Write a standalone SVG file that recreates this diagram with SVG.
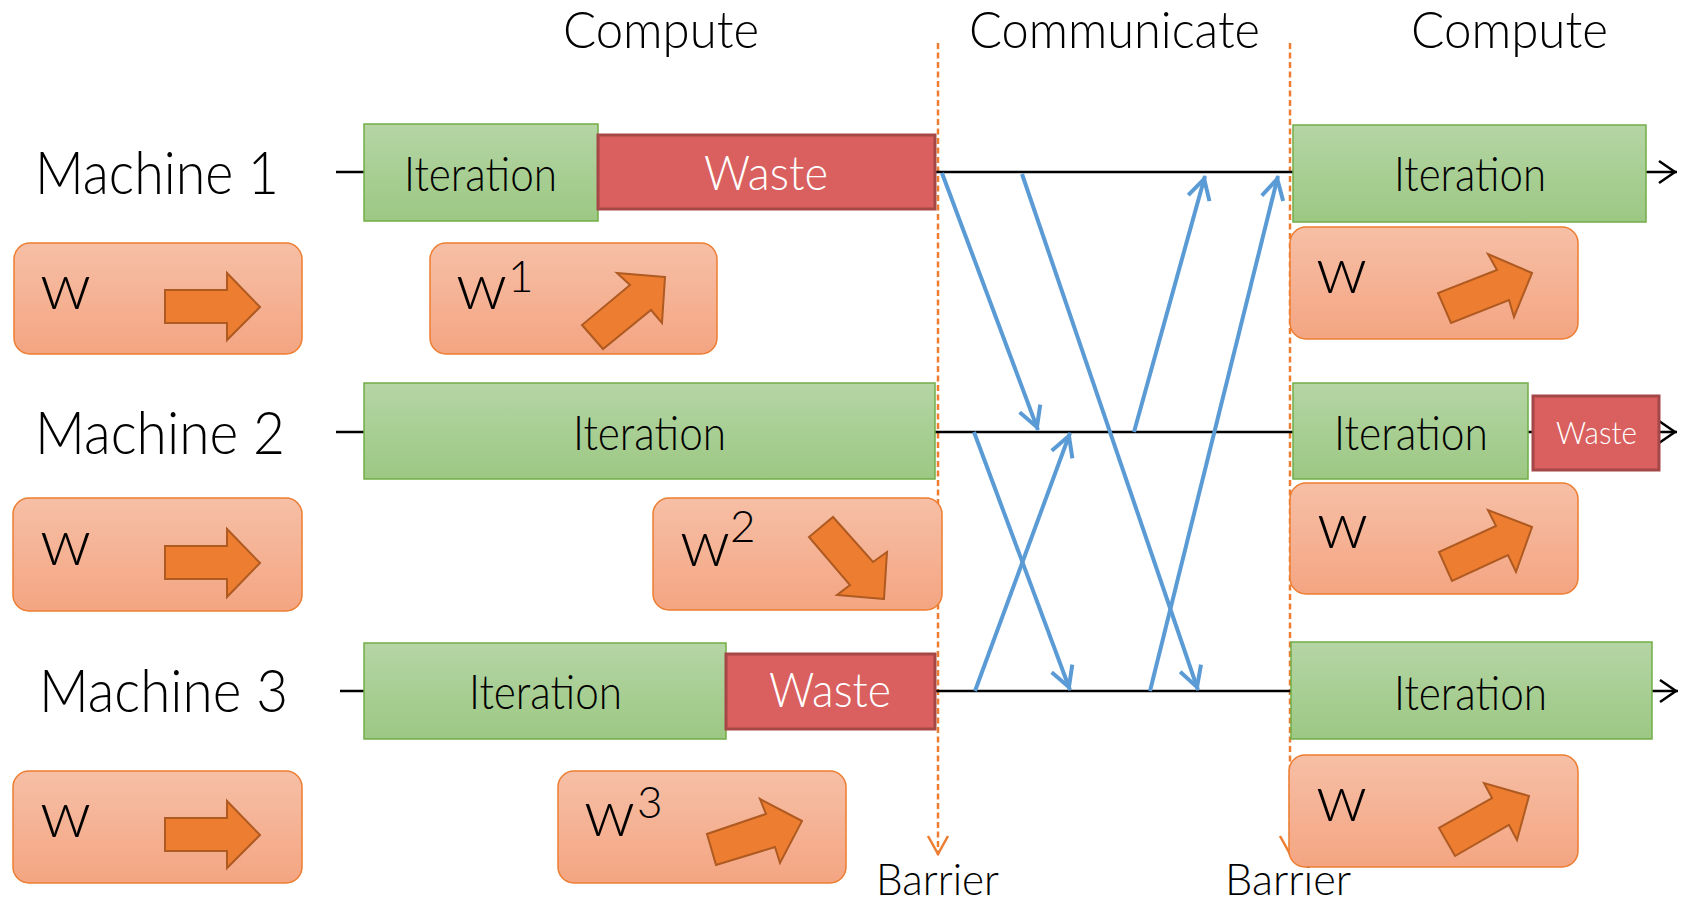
<svg xmlns="http://www.w3.org/2000/svg" width="1681" height="901" viewBox="0 0 1681 901">
  <defs>
    <linearGradient id="g-iter" x1="0" y1="0" x2="0" y2="1">
      <stop offset="0" stop-color="#B5D5A5"/>
      <stop offset="1" stop-color="#9CC883"/>
    </linearGradient>
    <linearGradient id="g-w" x1="0" y1="0" x2="0" y2="1">
      <stop offset="0" stop-color="#F6BFA6"/>
      <stop offset="1" stop-color="#F4A582"/>
    </linearGradient>
    <marker id="m-blue" markerUnits="userSpaceOnUse" viewBox="-24 -14 28 28" markerWidth="28" markerHeight="28" refX="3" refY="0" orient="auto" overflow="visible">
      <path d="M-20,-11 L0,0 L-20,11" fill="none" stroke="#5B9BD5" stroke-width="4"/>
    </marker>
    <marker id="m-black" markerUnits="userSpaceOnUse" viewBox="-20 -14 24 28" markerWidth="24" markerHeight="28" refX="2" refY="0" orient="auto" overflow="visible">
      <path d="M-16,-11 L0,0 L-16,11" fill="none" stroke="#000" stroke-width="2.5"/>
    </marker>
    <marker id="m-orange" markerUnits="userSpaceOnUse" viewBox="-22 -14 26 28" markerWidth="26" markerHeight="28" refX="1" refY="0" orient="auto" overflow="visible">
      <path d="M-18,-10 L0,0 L-18,10" fill="none" stroke="#ED7D31" stroke-width="2.5" stroke-dasharray="none"/>
    </marker>
  </defs>
  <style>
    text { font-family: Lato, "Open Sans", "DejaVu Sans", sans-serif; font-weight: 300; fill: #000; }
    .hdr { font-size: 52px; }
    .mach { font-size: 60px; }
    .lbl { font-size: 47px; }
    .wlbl { font-size: 47px; fill: #fff; }
    .wsm { font-size: 31px; fill: #fff; }
    .bar { font-size: 43px; }
    .w { font-size: 66px; }
    .sup { font-size: 44px; }
    .iter { fill: url(#g-iter); stroke: #71AD47; stroke-width: 1.5; }
    .waste { fill: #D9605F; stroke: #A54746; stroke-width: 3; }
    .wbox { fill: url(#g-w); stroke: #ED7D31; stroke-width: 1.5; }
    .blk { fill: #ED7D31; stroke: #AE5A21; stroke-width: 2; stroke-linejoin: miter; }
    .tl { stroke: #000; stroke-width: 2.5; fill: none; }
    .msg { stroke: #5B9BD5; stroke-width: 4; fill: none; }
    .barrier { stroke: #ED7D31; stroke-width: 2.5; stroke-dasharray: 6 3.5; fill: none; }
  </style>

  <rect width="1681" height="901" fill="#fff"/>

  <!-- phase headings -->
  <g id="headers">
    <text class="hdr" x="563" y="48" textLength="196" lengthAdjust="spacingAndGlyphs">Compute</text>
    <text class="hdr" x="969" y="48" textLength="291" lengthAdjust="spacingAndGlyphs">Communicate</text>
    <text class="hdr" x="1411" y="48" textLength="197" lengthAdjust="spacingAndGlyphs">Compute</text>
  </g>

  <!-- barrier markers -->
  <g id="barriers">
    <line class="barrier" x1="938" y1="43" x2="938" y2="855" marker-end="url(#m-orange)"/>
    <line class="barrier" x1="1290" y1="43" x2="1290" y2="855" marker-end="url(#m-orange)"/>
    <text class="bar" x="876" y="895" textLength="123" lengthAdjust="spacingAndGlyphs">Barrier</text>
    <text class="bar" x="1225" y="895" textLength="126" lengthAdjust="spacingAndGlyphs">Barrier</text>
  </g>

  <!-- connectors: machine timelines and messages -->
  <g id="connectors">
    <line class="tl" x1="336" y1="172" x2="1677" y2="172" marker-end="url(#m-black)"/>
    <line class="tl" x1="336" y1="432" x2="1677" y2="432" marker-end="url(#m-black)"/>
    <line class="tl" x1="340" y1="691" x2="1678" y2="691" marker-end="url(#m-black)"/>

    <line class="msg" x1="942" y1="173" x2="1038" y2="430" marker-end="url(#m-blue)"/>
    <line class="msg" x1="1022" y1="174" x2="1198" y2="690" marker-end="url(#m-blue)"/>
    <line class="msg" x1="1134" y1="432" x2="1205" y2="176" marker-end="url(#m-blue)"/>
    <line class="msg" x1="1150" y1="691" x2="1278" y2="176" marker-end="url(#m-blue)"/>
    <line class="msg" x1="974" y1="432" x2="1070" y2="690" marker-end="url(#m-blue)"/>
    <line class="msg" x1="975" y1="691" x2="1070" y2="433" marker-end="url(#m-blue)"/>
  </g>

  <!-- Machine 1 -->
  <g id="machine1">
    <text class="mach" x="35" y="194" textLength="244" lengthAdjust="spacingAndGlyphs">Machine 1</text>
    <rect class="iter" x="364" y="124" width="234" height="97"/>
    <text class="lbl" x="404" y="191" textLength="153" lengthAdjust="spacingAndGlyphs">Iteration</text>
    <rect class="waste" x="598" y="135" width="337" height="74"/>
    <text class="wlbl" x="704" y="190" textLength="124" lengthAdjust="spacingAndGlyphs">Waste</text>
    <rect class="iter" x="1293" y="125" width="353" height="97"/>
    <text class="lbl" x="1394" y="191" textLength="152" lengthAdjust="spacingAndGlyphs">Iteration</text>
  </g>
  <g id="w-m1-start">
    <rect class="wbox" x="14" y="243" width="288" height="111" rx="16"/>
    <text class="w" x="40" y="309" textLength="51" lengthAdjust="spacingAndGlyphs">w</text>
    <polygon class="blk" points="165,290 227,290 227,273 260,307 227,340 227,323 165,323"/>
  </g>
  <g id="w-m1-local">
    <rect class="wbox" x="430" y="243" width="287" height="111" rx="16"/>
    <text class="w" x="456" y="309" textLength="51" lengthAdjust="spacingAndGlyphs">w</text>
    <text class="sup" x="508" y="292">1</text>
    <polygon class="blk" points="665,277 617,273 630,285 582,325 603,349 651,310 662,323"/>
  </g>
  <g id="w-m1-next">
    <rect class="wbox" x="1290" y="227" width="288" height="112" rx="16"/>
    <text class="w" x="1316" y="293" textLength="51" lengthAdjust="spacingAndGlyphs">w</text>
    <polygon class="blk" points="1532,273 1488,254 1497,270 1438,293 1451,323 1509,300 1514,317"/>
  </g>

  <!-- Machine 2 -->
  <g id="machine2">
    <text class="mach" x="35" y="454" textLength="250" lengthAdjust="spacingAndGlyphs">Machine 2</text>
    <rect class="iter" x="364" y="383" width="571" height="96"/>
    <text class="lbl" x="573" y="450" textLength="153" lengthAdjust="spacingAndGlyphs">Iteration</text>
    <rect class="iter" x="1293" y="383" width="235" height="96"/>
    <text class="lbl" x="1334" y="450" textLength="154" lengthAdjust="spacingAndGlyphs">Iteration</text>
    <rect class="waste" x="1533" y="396" width="126" height="74"/>
    <text class="wsm" x="1556" y="444" textLength="81" lengthAdjust="spacingAndGlyphs">Waste</text>
  </g>
  <g id="w-m2-start">
    <rect class="wbox" x="13" y="498" width="289" height="113" rx="16"/>
    <text class="w" x="40" y="565" textLength="51" lengthAdjust="spacingAndGlyphs">w</text>
    <polygon class="blk" points="165,546 227,546 227,529 260,563 227,597 227,579 165,579"/>
  </g>
  <g id="w-m2-local">
    <rect class="wbox" x="653" y="498" width="289" height="112" rx="16"/>
    <text class="w" x="680" y="566" textLength="50" lengthAdjust="spacingAndGlyphs">w</text>
    <text class="sup" x="730" y="542">2</text>
    <polygon class="blk" points="884,599 837,595 850,585 809,537 833,517 873,562 887,552"/>
  </g>
  <g id="w-m2-next">
    <rect class="wbox" x="1290" y="483" width="288" height="111" rx="16"/>
    <text class="w" x="1317" y="548" textLength="51" lengthAdjust="spacingAndGlyphs">w</text>
    <polygon class="blk" points="1532,527 1488,510 1496,526 1439,552 1452,581 1508,555 1516,572"/>
  </g>

  <!-- Machine 3 -->
  <g id="machine3">
    <text class="mach" x="39" y="712" textLength="249" lengthAdjust="spacingAndGlyphs">Machine 3</text>
    <rect class="iter" x="364" y="643" width="362" height="96"/>
    <text class="lbl" x="469" y="709" textLength="153" lengthAdjust="spacingAndGlyphs">Iteration</text>
    <rect class="waste" x="726" y="654" width="209" height="75"/>
    <text class="wlbl" x="769" y="707" textLength="122" lengthAdjust="spacingAndGlyphs">Waste</text>
    <rect class="iter" x="1291" y="642" width="361" height="97"/>
    <text class="lbl" x="1394" y="710" textLength="153" lengthAdjust="spacingAndGlyphs">Iteration</text>
  </g>
  <g id="w-m3-start">
    <rect class="wbox" x="13" y="771" width="289" height="112" rx="16"/>
    <text class="w" x="40" y="837" textLength="51" lengthAdjust="spacingAndGlyphs">w</text>
    <polygon class="blk" points="165,818 227,818 227,801 260,835 227,868 227,851 165,851"/>
  </g>
  <g id="w-m3-local">
    <rect class="wbox" x="558" y="771" width="288" height="112" rx="16"/>
    <text class="w" x="584" y="836" textLength="51" lengthAdjust="spacingAndGlyphs">w</text>
    <text class="sup" x="637" y="818">3</text>
    <polygon class="blk" points="802,821 760,799 766,814 707,834 716,865 775,847 780,863"/>
  </g>
  <g id="w-m3-next">
    <rect class="wbox" x="1289" y="755" width="289" height="112" rx="16"/>
    <text class="w" x="1316" y="821" textLength="51" lengthAdjust="spacingAndGlyphs">w</text>
    <polygon class="blk" points="1529,796 1484,783 1492,798 1439,828 1455,856 1509,825 1517,840"/>
  </g>
</svg>
